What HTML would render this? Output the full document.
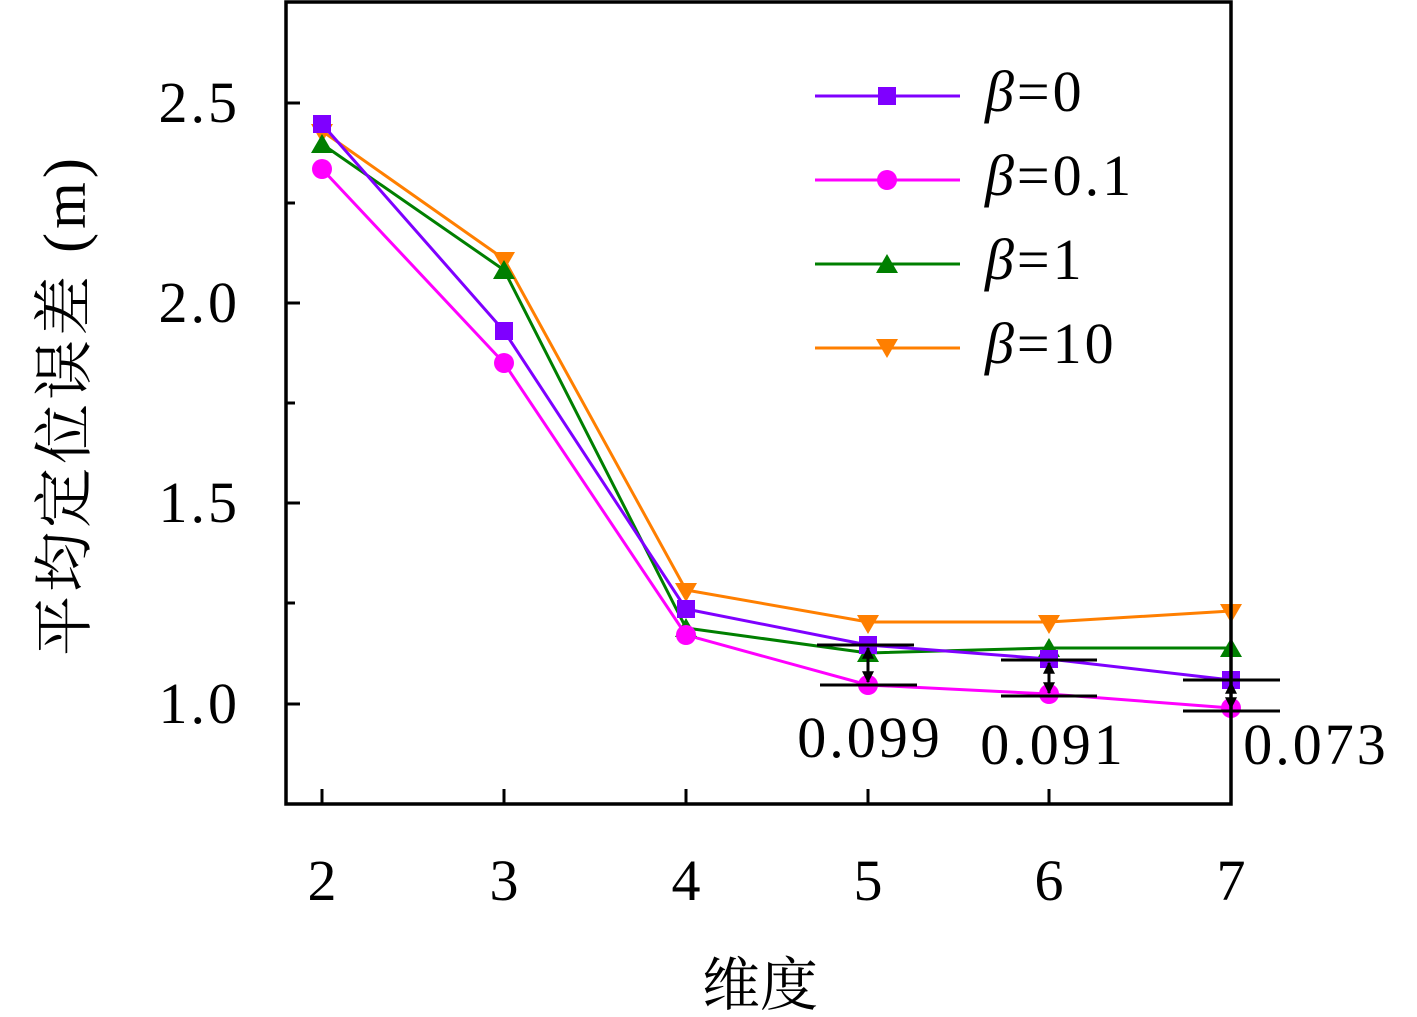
<!DOCTYPE html>
<html><head><meta charset="utf-8"><style>html,body{margin:0;padding:0;background:#fff}svg{display:block}</style></head>
<body>
<svg width="1417" height="1017" viewBox="0 0 1417 1017" xmlns="http://www.w3.org/2000/svg" font-family="'Liberation Serif','DejaVu Serif',serif">
<defs>
<marker id="ah" viewBox="0 0 10 10" refX="9" refY="5" markerWidth="4" markerHeight="4" orient="auto-start-reverse"><path d="M0,0L10,5L0,10z" fill="#000"/></marker>
</defs>
<g stroke="#000" stroke-width="3">
<line x1="286" y1="103" x2="300" y2="103"/><line x1="286" y1="303" x2="300" y2="303"/><line x1="286" y1="503" x2="300" y2="503"/><line x1="286" y1="704" x2="300" y2="704"/>
<line x1="286" y1="203" x2="295" y2="203"/><line x1="286" y1="403" x2="295" y2="403"/><line x1="286" y1="603" x2="295" y2="603"/>
<line x1="322" y1="804" x2="322" y2="789"/><line x1="504" y1="804" x2="504" y2="789"/><line x1="686" y1="804" x2="686" y2="789"/><line x1="868" y1="804" x2="868" y2="789"/><line x1="1049" y1="804" x2="1049" y2="789"/>
</g>
<g fill="none" stroke-width="3">
<polyline stroke="#ff7f00" points="322,131 504,259 686,590 868,622 1049,622 1231,611"/>
<polyline stroke="#007f00" points="322,144 504,270 686,628 868,653 1049,648 1231,648"/>
<polyline stroke="#7f00ff" points="322,124 504,331 686,609 868,645 1049,659 1231,680"/>
<polyline stroke="#ff00ff" points="322,169 504,363 686,635 868,685 1049,694 1231,708"/>
</g>
<g fill="#ff7f00">
<path d="M311,124h22l-11,19z"/><path d="M493,252h22l-11,19z"/><path d="M675,583h22l-11,19z"/><path d="M857,615h22l-11,19z"/><path d="M1038,615h22l-11,19z"/><path d="M1220,604h22l-11,19z"/>
</g>
<g fill="#007f00">
<path d="M311,153h22l-11,-19z"/><path d="M493,279h22l-11,-19z"/><path d="M675,637h22l-11,-19z"/><path d="M857,662h22l-11,-19z"/><path d="M1038,657h22l-11,-19z"/><path d="M1220,657h22l-11,-19z"/>
</g>
<g fill="#7f00ff">
<rect x="313" y="115" width="18" height="18"/><rect x="495" y="322" width="18" height="18"/><rect x="677" y="600" width="18" height="18"/><rect x="859" y="636" width="18" height="18"/><rect x="1040" y="650" width="18" height="18"/><rect x="1222" y="671" width="18" height="18"/>
</g>
<g fill="#ff00ff">
<circle cx="322" cy="169" r="10"/><circle cx="504" cy="363" r="10"/><circle cx="686" cy="635" r="10"/><circle cx="868" cy="685" r="10"/><circle cx="1049" cy="694" r="10"/><circle cx="1231" cy="708" r="10"/>
</g>
<g stroke="#000" stroke-width="3">
<line x1="817" y1="645" x2="914" y2="645"/><line x1="820" y1="685" x2="917" y2="685"/>
<line x1="1001" y1="660" x2="1097" y2="660"/><line x1="1001" y1="696" x2="1097" y2="696"/>
<line x1="1183" y1="680" x2="1280" y2="680"/><line x1="1183" y1="711" x2="1280" y2="711"/>
<line x1="868" y1="648" x2="868" y2="682" marker-start="url(#ah)" marker-end="url(#ah)"/>
<line x1="1049" y1="663" x2="1049" y2="693" marker-start="url(#ah)" marker-end="url(#ah)"/>
<line x1="1231" y1="683" x2="1231" y2="708" marker-start="url(#ah)" marker-end="url(#ah)"/>
</g>
<g font-size="58" fill="#000" letter-spacing="3">
<text x="870" y="757" text-anchor="middle">0.099</text>
<text x="1053" y="764" text-anchor="middle">0.091</text>
<text x="1316" y="764" text-anchor="middle">0.073</text>
</g>
<rect x="286" y="2" width="945" height="802" fill="none" stroke="#000" stroke-width="3.5"/>
<g font-size="58" fill="#000" text-anchor="end" letter-spacing="3">
<text x="240" y="122">2.5</text><text x="240" y="322">2.0</text><text x="240" y="522">1.5</text><text x="240" y="723">1.0</text>
</g>
<g font-size="58" fill="#000" text-anchor="middle">
<text x="322" y="900">2</text><text x="504" y="900">3</text><text x="686" y="900">4</text><text x="868" y="900">5</text><text x="1049" y="900">6</text><text x="1231" y="900">7</text>
</g>
<text x="760" y="1005" font-size="58" text-anchor="middle" font-family="'Noto Serif CJK SC','Noto Sans CJK SC',serif">维度</text>
<text transform="translate(85,405) rotate(-90)" font-size="60" text-anchor="middle" letter-spacing="4" font-family="'Liberation Serif','Noto Serif CJK SC',serif">平均定位误差 (m)</text>
<g stroke-width="3">
<line x1="815" y1="96" x2="960" y2="96" stroke="#7f00ff"/><rect x="878" y="87" width="18" height="18" fill="#7f00ff"/>
<line x1="815" y1="180" x2="960" y2="180" stroke="#ff00ff"/><circle cx="887" cy="180" r="10" fill="#ff00ff"/>
<line x1="815" y1="264" x2="960" y2="264" stroke="#007f00"/><path d="M876,273h22l-11,-19z" fill="#007f00"/>
<line x1="815" y1="348" x2="960" y2="348" stroke="#ff7f00"/><path d="M876,339h22l-11,19z" fill="#ff7f00"/>
</g>
<g font-size="58" fill="#000" letter-spacing="3">
<text x="985" y="111"><tspan font-style="italic">β</tspan>=0</text>
<text x="985" y="195"><tspan font-style="italic">β</tspan>=0.1</text>
<text x="985" y="279"><tspan font-style="italic">β</tspan>=1</text>
<text x="985" y="363"><tspan font-style="italic">β</tspan>=10</text>
</g>
</svg>
</body></html>
